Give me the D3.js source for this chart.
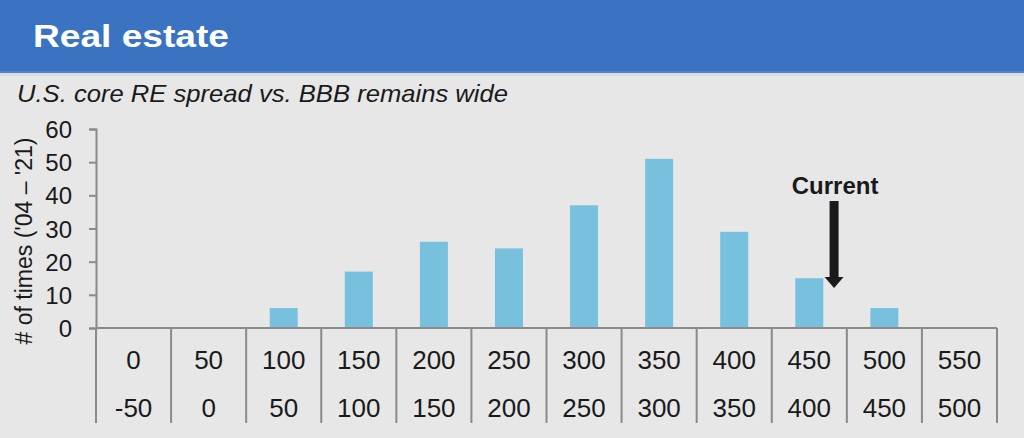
<!DOCTYPE html>
<html><head><meta charset="utf-8">
<script src="https://cdn.jsdelivr.net/npm/d3@7"></script>
<style>html,body{margin:0;padding:0;background:#e7e7e7;}svg{display:block;}</style>
</head><body>
<script>
const upperLabels = ["0","50","100","150","200","250","300","350","400","450","500","550"];
const lowerLabels = ["-50","0","50","100","150","200","250","300","350","400","450","500"];
const counts = [0,0,6,17,26,24,37,51,29,15,6,0];
const yTicks = [0,10,20,30,40,50,60];
const currentIndex = 9;

const W = 1024, H = 438;
const font = "Liberation Sans, Arial, sans-serif";
const svg = d3.select("body").append("svg").attr("width", W).attr("height", H);
svg.append("rect").attr("width", W).attr("height", H).attr("fill", "#e7e7e7");
svg.append("rect").attr("width", W).attr("height", 72).attr("fill", "#3a73c2");
svg.append("rect").attr("y", 71).attr("width", W).attr("height", 2).attr("fill", "#5a80bd");
svg.append("rect").attr("y", 73).attr("width", W).attr("height", 3).attr("fill", "#d6dde9");
svg.append("text").attr("x", 33).attr("y", 47).attr("fill", "#fff")
  .attr("font-family", font).attr("font-weight", "bold")
  .attr("font-size", 32).attr("textLength", 196).attr("lengthAdjust", "spacingAndGlyphs")
  .text("Real estate");
svg.append("text").attr("x", 17).attr("y", 102).attr("fill", "#1a1a1a")
  .attr("font-family", font).attr("font-style", "italic")
  .attr("font-size", 24).attr("textLength", 491).attr("lengthAdjust", "spacingAndGlyphs")
  .text("U.S. core RE spread vs. BBB remains wide");

const x0 = 96, x1 = 997, yTop = 129, yBase = 328;
const x = d3.scaleBand().domain(d3.range(upperLabels.length)).range([x0, x1]).paddingInner(0).paddingOuter(0);
const y = d3.scaleLinear().domain([0, 60]).range([yBase, yTop]);
const axisColor = "#8a8a8a";

// bars
const barW = 28;
svg.append("g").selectAll("rect").data(counts).join("rect")
  .attr("x", (d, i) => x(i) + x.bandwidth() / 2 - barW / 2)
  .attr("width", barW)
  .attr("y", d => y(d))
  .attr("height", d => yBase - y(d))
  .attr("fill", "#78c1de");

// y axis
const yAxis = d3.axisLeft(y).tickValues(yTicks).tickSize(7).tickPadding(17);
const gy = svg.append("g").attr("transform", `translate(${x0},0)`).call(yAxis);
gy.select(".domain").attr("stroke", axisColor).attr("stroke-width", 2);
gy.selectAll(".tick line").attr("stroke", axisColor).attr("stroke-width", 2);
gy.selectAll(".tick text").attr("font-family", font).attr("font-size", 24).attr("fill", "#1a1a1a").attr("dy", "0.36em");

// x axis baseline and separators
svg.append("line").attr("x1", x0).attr("x2", x1).attr("y1", yBase).attr("y2", yBase)
  .attr("stroke", axisColor).attr("stroke-width", 2);
const seps = d3.range(upperLabels.length + 1).map(i => i < upperLabels.length ? x(i) : x1);
svg.append("g").selectAll("line").data(seps).join("line")
  .attr("x1", d => d).attr("x2", d => d).attr("y1", yBase).attr("y2", 423)
  .attr("stroke", axisColor).attr("stroke-width", 2);

svg.append("g").selectAll("text").data(upperLabels).join("text")
  .attr("x", (d, i) => x(i) + x.bandwidth() / 2).attr("y", 369)
  .attr("text-anchor", "middle").attr("font-family", font).attr("font-size", 26).attr("fill", "#1a1a1a")
  .text(d => d);
svg.append("g").selectAll("text").data(lowerLabels).join("text")
  .attr("x", (d, i) => x(i) + x.bandwidth() / 2).attr("y", 417)
  .attr("text-anchor", "middle").attr("font-family", font).attr("font-size", 26).attr("fill", "#1a1a1a")
  .text(d => d);

// y title
svg.append("text").attr("transform", `translate(32,241) rotate(-90)`)
  .attr("text-anchor", "middle").attr("font-family", font).attr("font-size", 23).attr("fill", "#1a1a1a")
  .text("# of times ('04 \u2013 '21)");

// Current annotation
const ax = x(currentIndex) + x.bandwidth() * 0.83;
svg.append("text").attr("x", ax + 1).attr("y", 194).attr("text-anchor", "middle")
  .attr("font-family", font).attr("font-weight", "bold").attr("font-size", 24).attr("fill", "#1a1a1a")
  .text("Current");
svg.append("rect").attr("x", ax - 4.5).attr("y", 201).attr("width", 9).attr("height", 77).attr("fill", "#1a1a1a");
svg.append("path").attr("d", `M${ax - 9.5},277 L${ax + 9.5},277 L${ax},288 Z`).attr("fill", "#1a1a1a");
</script>
</body></html>
